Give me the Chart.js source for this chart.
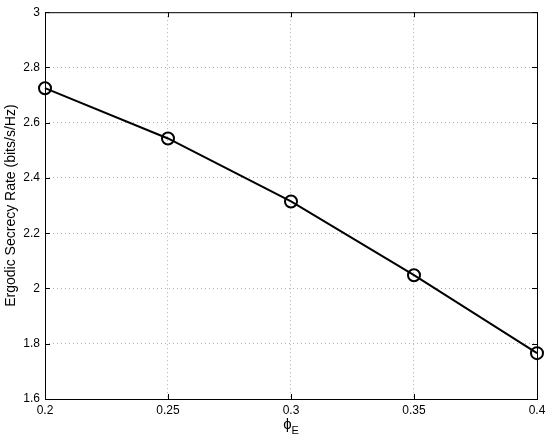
<!DOCTYPE html>
<html>
<head>
<meta charset="utf-8">
<script src="https://cdn.jsdelivr.net/npm/chart.js@4"></script>
<style>
  html, body { margin: 0; padding: 0; background: #fff; }
  #wrap { width: 554px; height: 444px; }
</style>
</head>
<body>
<div id="wrap"><canvas id="rateChart" width="554" height="444"></canvas></div>
<script>
const phiE = [0.2, 0.25, 0.3, 0.35, 0.4];
const secrecyRate = [2.725, 2.543, 2.315, 2.048, 1.766];
const xTicks = [0.2, 0.25, 0.3, 0.35, 0.4];
const yTicks = [1.6, 1.8, 2, 2.2, 2.4, 2.6, 2.8, 3];

const FONT = '"Liberation Sans", Arial, Helvetica, sans-serif';

// frame, inward ticks and axis titles like the matlab figure
const framePlugin = {
  id: 'frame',
  beforeDatasetsDraw(chart) {
    const { ctx, chartArea: a, scales } = chart;
    ctx.save();
    ctx.strokeStyle = '#000';
    ctx.lineWidth = 1;
    ctx.strokeRect(a.left + 0.5, a.top + 0.5, a.right - a.left, a.bottom - a.top);
    ctx.beginPath();
    xTicks.forEach(v => {
      const x = Math.round(scales.x.getPixelForValue(v)) + 0.5;
      ctx.moveTo(x, a.bottom); ctx.lineTo(x, a.bottom - 5);
      ctx.moveTo(x, a.top); ctx.lineTo(x, a.top + 5);
    });
    yTicks.forEach(v => {
      const y = Math.round(scales.y.getPixelForValue(v)) + 0.5;
      ctx.moveTo(a.left, y); ctx.lineTo(a.left + 5, y);
      ctx.moveTo(a.right, y); ctx.lineTo(a.right - 5, y);
    });
    ctx.stroke();

    ctx.fillStyle = '#000';
    // x title: phi with subscript E
    ctx.font = '15px ' + FONT;
    ctx.textBaseline = 'alphabetic';
    ctx.textAlign = 'left';
    const cx = (a.left + a.right) / 2;
    const w1 = ctx.measureText('\u03D5').width;
    ctx.font = '11px ' + FONT;
    const w2 = ctx.measureText('E').width;
    const x0 = cx - (w1 + w2) / 2;
    ctx.font = '15px ' + FONT;
    ctx.fillText('\u03D5', x0, 429);
    ctx.font = '11px ' + FONT;
    ctx.fillText('E', x0 + w1, 434);

    // y title
    ctx.font = '14px ' + FONT;
    ctx.translate(11, (a.top + a.bottom) / 2);
    ctx.rotate(-Math.PI / 2);
    ctx.textAlign = 'center';
    ctx.textBaseline = 'middle';
    ctx.fillText('Ergodic Secrecy Rate (bits/s/Hz)', 0, 0);
    ctx.restore();
  }
};

new Chart(document.getElementById('rateChart'), {
  type: 'line',
  data: {
    datasets: [{
      data: phiE.map((x, i) => ({ x, y: secrecyRate[i] })),
      borderColor: '#000',
      borderWidth: 2,
      pointRadius: 6,
      pointBorderWidth: 2,
      pointBorderColor: '#000',
      pointBackgroundColor: 'rgba(0,0,0,0)',
      tension: 0,
      fill: false,
      clip: false
    }]
  },
  options: {
    responsive: false,
    animation: false,
    layout: { padding: { top: 11, right: 17, left: 0, bottom: 0 } },
    plugins: { legend: { display: false }, tooltip: { enabled: false } },
    scales: {
      x: {
        type: 'linear',
        min: 0.2, max: 0.4,
        afterFit: s => { s.height = 45; },
        afterBuildTicks: s => { s.ticks = xTicks.map(v => ({ value: v })); },
        grid: { color: '#b0b0b0', lineWidth: 1, drawTicks: false },
        border: { display: false, dash: [1, 3] },
        ticks: {
          padding: 4,
          color: '#000',
          font: { family: FONT, size: 12 },
          callback: v => String(v)
        }
      },
      y: {
        min: 1.6, max: 3,
        afterFit: s => { s.width = 45; },
        afterBuildTicks: s => { s.ticks = yTicks.map(v => ({ value: v })); },
        grid: { color: '#b0b0b0', lineWidth: 1, drawTicks: false },
        border: { display: false, dash: [1, 3] },
        ticks: {
          padding: 5,
          color: '#000',
          font: { family: FONT, size: 12 },
          callback: v => String(Math.round(v * 10) / 10)
        }
      }
    }
  },
  plugins: [framePlugin]
});
</script>
</body>
</html>
